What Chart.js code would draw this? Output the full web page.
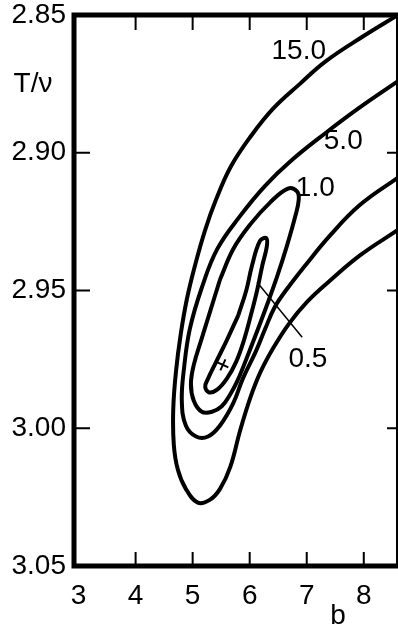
<!DOCTYPE html>
<html>
<head>
<meta charset="utf-8">
<script src="https://cdn.jsdelivr.net/npm/chart.js@4.4.1/dist/chart.umd.min.js"></script>
<style>
  html, body { margin: 0; padding: 0; background: #fff; overflow: hidden; }
  #wrap { width: 398px; height: 631px; }
</style>
</head>
<body>
<div id="wrap"><canvas id="myChart"></canvas></div>
<script>
const xTicks = [3, 4, 5, 6, 7, 8];
const yTicks = [2.85, 2.90, 2.95, 3.00, 3.05];

// contour levels as (b, T/v) pairs
const levels = ['15.0', '5.0', '1.0', '0.5'];

const c15b = [8.60, 7.97, 7.32, 6.88, 6.41, 6.02, 5.67, 5.41, 5.22, 5.04, 4.90, 4.79, 4.71, 4.66, 4.67, 4.74, 4.88, 5.09,
  5.30, 5.48, 5.66, 5.83, 6.01, 6.18, 6.41, 6.69, 7.01, 7.43, 7.95, 8.60];
const c15t = [2.850, 2.858, 2.867, 2.875, 2.884, 2.894, 2.905, 2.917, 2.928, 2.941, 2.953, 2.966, 2.979, 2.993, 3.006, 3.015, 3.022, 3.027,
  3.026, 3.022, 3.014, 3.001, 2.989, 2.980, 2.971, 2.962, 2.954, 2.946, 2.937, 2.928];

const c5b = [8.60, 7.90, 7.32, 6.72, 6.27, 5.83, 5.43, 5.16, 4.95, 4.85, 4.81, 4.88, 5.06,
  5.27, 5.48, 5.71, 5.88, 6.11, 6.27, 6.44, 6.67, 6.97, 7.41, 7.93, 8.60];
const c5t = [2.874, 2.884, 2.893, 2.903, 2.912, 2.923, 2.935, 2.949, 2.964, 2.978, 2.990, 2.999, 3.003,
  3.003, 2.999, 2.991, 2.982, 2.972, 2.964, 2.956, 2.949, 2.941, 2.930, 2.919, 2.909];

const c1b = [5.48, 5.30, 5.15, 5.02, 4.97, 5.02, 5.16, 5.34, 5.51, 5.65, 5.78, 5.92, 6.09, 6.29, 6.48, 6.65, 6.80, 6.86, 6.83, 6.67, 6.36, 6.01, 5.71, 5.48];
const c1t = [2.946, 2.958, 2.968, 2.977, 2.984, 2.990, 2.994, 2.994, 2.992, 2.988, 2.983, 2.976, 2.967, 2.956, 2.945, 2.934, 2.923, 2.917, 2.914, 2.913, 2.918, 2.926, 2.935, 2.946];

const c05b = [5.80, 5.60, 5.41, 5.27, 5.22, 5.29, 5.43, 5.60, 5.76, 5.90, 6.02, 6.13, 6.22, 6.30, 6.29, 6.18, 6.04, 5.94, 5.80];
const c05t = [2.959, 2.968, 2.976, 2.982, 2.985, 2.987, 2.986, 2.982, 2.976, 2.968, 2.959, 2.950, 2.941, 2.934, 2.931, 2.932, 2.941, 2.950, 2.959];

// minimum (x) and the pointer line for the 0.5 label
const minB = [5.53];
const minT = [2.977];
const leaderB = [6.13, 6.92];
const leaderT = [2.947, 2.967];

// where the level labels sit
const labelB = [6.86, 7.64, 7.15, 7.02];
const labelT = [2.863, 2.896, 2.913, 2.975];

const FONT = "'Liberation Sans', Arial, sans-serif";
Chart.defaults.font.family = FONT;
Chart.defaults.color = '#000';

const zip = (bs, ts) => bs.map((b, i) => ({ x: b, y: ts[i] }));

const curve = (bs, ts) => ({
  data: zip(bs, ts),
  showLine: true,
  borderColor: '#000',
  borderWidth: 4,
  tension: 0.4,
  pointRadius: 0,
  fill: false
});

const framePlugin = {
  id: 'frame',
  afterDatasetsDraw(chart) {
    const { ctx, chartArea: a, scales: { x, y } } = chart;
    ctx.save();
    ctx.strokeStyle = '#000';
    ctx.fillStyle = '#000';

    // ticks point inward on all four sides
    ctx.lineWidth = 2;
    ctx.beginPath();
    xTicks.slice(1).forEach(v => {
      const px = x.getPixelForValue(v);
      ctx.moveTo(px, a.bottom); ctx.lineTo(px, a.bottom - 14);
      ctx.moveTo(px, a.top); ctx.lineTo(px, a.top + 15);
    });
    yTicks.slice(1, -1).forEach(v => {
      const py = y.getPixelForValue(v);
      ctx.moveTo(a.left, py); ctx.lineTo(a.left + 16, py);
      ctx.moveTo(a.right, py); ctx.lineTo(a.right - 11, py);
    });
    ctx.stroke();

    ctx.lineWidth = 5;
    ctx.beginPath();
    ctx.moveTo(a.right, a.top);
    ctx.lineTo(a.left, a.top);
    ctx.lineTo(a.left, a.bottom);
    ctx.lineTo(a.right, a.bottom);
    ctx.stroke();
    ctx.lineWidth = 2;
    ctx.beginPath();
    ctx.moveTo(a.right - 1, a.top);
    ctx.lineTo(a.right - 1, a.bottom);
    ctx.stroke();

    ctx.font = '28px ' + FONT;
    ctx.textAlign = 'center';
    ctx.textBaseline = 'middle';
    levels.forEach((txt, i) => {
      ctx.fillText(txt, x.getPixelForValue(labelB[i]), y.getPixelForValue(labelT[i]));
    });
    ctx.fillText('T/\u03BD', 33, y.getPixelForValue(2.875));
    ctx.fillText('b', x.getPixelForValue(7.55), a.bottom + 50);
    ctx.restore();
  }
};

new Chart(document.getElementById('myChart'), {
  type: 'scatter',
  data: {
    datasets: [
      curve(c15b, c15t),
      curve(c5b, c5t),
      curve(c1b, c1t),
      curve(c05b, c05t),
      {
        data: zip(leaderB, leaderT),
        showLine: true,
        borderColor: '#000',
        borderWidth: 1.5,
        pointRadius: 0
      },
      {
        data: zip(minB, minT),
        showLine: false,
        pointStyle: 'cross',
        rotation: 25,
        pointRadius: 6,
        borderWidth: 2,
        borderColor: '#000'
      }
    ]
  },
  options: {
    responsive: true,
    maintainAspectRatio: false,
    animation: false,
    layout: { autoPadding: false, padding: { top: 15, right: 0, left: 0, bottom: 0 } },
    plugins: { legend: { display: false }, tooltip: { enabled: false } },
    scales: {
      x: {
        type: 'linear',
        min: 2.92,
        max: 8.6,
        grid: { display: false, drawTicks: false },
        border: { display: false },
        afterBuildTicks: s => { s.ticks = xTicks.map(v => ({ value: v })); },
        afterFit: s => { s.height = 65; s.paddingLeft = 0; s.paddingRight = 0; },
        ticks: { font: { size: 28 }, padding: 13, maxRotation: 0, autoSkip: false, callback: v => String(v) }
      },
      y: {
        type: 'linear',
        reverse: true,
        min: 2.85,
        max: 3.05,
        grid: { display: false, drawTicks: false },
        border: { display: false },
        afterBuildTicks: s => { s.ticks = yTicks.map(v => ({ value: v })); },
        afterFit: s => { s.width = 74; s.paddingTop = 0; s.paddingBottom = 0; },
        ticks: { font: { size: 28 }, padding: 8, autoSkip: false, callback: v => v.toFixed(2) }
      }
    }
  },
  plugins: [framePlugin]
});
</script>
</body>
</html>
